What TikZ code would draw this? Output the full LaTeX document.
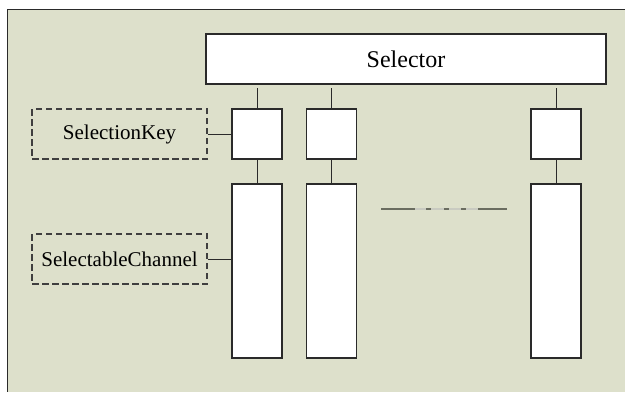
\documentclass[tikz,border=0pt]{standalone}
\usepackage{fontspec}
\setmainfont{Liberation Serif}
\usetikzlibrary{calc}
\definecolor{bgc}{HTML}{DDE0CB}
\definecolor{edge}{HTML}{2A2A2A}
\definecolor{dashdark}{HTML}{6A6D60}
\definecolor{dashlight}{HTML}{C9CBC1}
\begin{document}
\begin{tikzpicture}[x=1pt,y=-1pt,
  box/.style={draw=edge, fill=white, line width=1.2pt, inner sep=0pt, rectangle},
  keybox/.style={box, minimum width=50pt, minimum height=50pt},
  chanbox/.style={box, minimum width=50pt, minimum height=174pt},
  labelbox/.style={draw=edge!90, dashed, dash pattern=on 6.5pt off 3.5pt, line width=1.1pt, inner sep=0pt,
     minimum width=175pt, minimum height=50pt, text=black, font=\fontsize{21}{25}\selectfont},
  conn/.style={draw=edge, line width=1pt}]
\useasboundingbox (0,0) rectangle (625,392);
\fill[white] (0,0) rectangle (625,392);
\fill[bgc] (7,9) rectangle (625,392);
\draw[edge, line width=1pt] (625,9) -- (7,9) -- (7,392);
% Selector
\node[box, minimum width=400pt, minimum height=50pt, font=\fontsize{24}{28}\selectfont, text=black] (sel) at (406,59) {Selector};
% keys
\node[keybox] (k1) at (257,134) {};
\node[keybox] (k2) at (331.25,134) {};
\node[keybox] (k3) at (556,134) {};
% channels
\node[chanbox] (c1) at (257,271) {};
\node[chanbox] (c2) at (331.25,271) {};
\node[chanbox] (c3) at (556,271) {};
% top connectors
\foreach \k in {1,2,3} {
  \coordinate (t\k) at ($(k\k.north)+(0,-20)$);
  \draw[conn] (t\k) -- (k\k.north);
  \draw[conn] (k\k.south) -- (c\k.north);
}
% labels
\node[labelbox] (sk) at (119.5,134) {SelectionKey};
\node[labelbox] (sc) at (119.5,259) {SelectableChannel};
\draw[conn] (sk.east) -- (k1.west);
\draw[conn] (sc.east) -- (sc.east -| c1.west);
% ellipsis line
\coordinate (d1) at (381,209);
\coordinate (d2) at (507,209);
\draw[dashlight, line width=2pt] (d1) -- (d2);
\draw[dashdark, line width=2pt] (d1) -- ++(34,0);
\draw[dashdark, line width=2pt] (d2) -- ++(-29,0);
\foreach \x in {426,444,461} {
  \draw[dashdark, line width=2pt] ($(d1)+(\x-381,0)$) -- ++(5,0);
}
\end{tikzpicture}
\end{document}
